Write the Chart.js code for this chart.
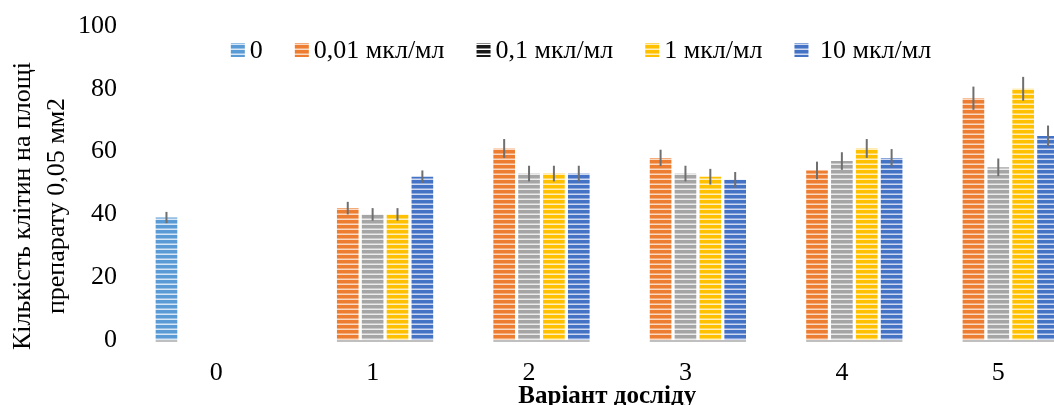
<!DOCTYPE html>
<html>
<head>
<meta charset="utf-8">
<script src="https://cdn.jsdelivr.net/npm/chart.js@4.4.0/dist/chart.umd.min.js"></script>
<style>
  html, body { margin: 0; padding: 0; background: #fff; overflow: hidden; }
  #wrap { width: 1054px; height: 405px; overflow: hidden; }
  canvas { display: block; }
</style>
</head>
<body>
<div id="wrap"><canvas id="barChart" width="1100" height="405"></canvas></div>
<script>
// data
const categories = ["0", "1", "2", "3", "4", "5"];
const seriesNames = ["0", "0,01 мкл/мл", "0,1 мкл/мл", "1 мкл/мл", " 10 мкл/мл"];

const control = [39, null, null, null, null, null];
const dose001 = [null, 42, 61, 58, 54, 77];
const dose01 = [null, 40, 53, 53, 57, 55];
const dose1 = [null, 40, 53, 52, 61, 80];
const dose10 = [null, 52, 53, 51, 58, 65];

const controlErr = [1.8, 0, 0, 0, 0, 0];
const dose001Err = [0, 2, 3, 2.6, 2.8, 3.7];
const dose01Err = [0, 2, 2.5, 2.5, 2.8, 2.8];
const dose1Err = [0, 2, 2.5, 2.5, 3, 3.8];
const dose10Err = [0, 2, 2.5, 2.5, 2.8, 3.3];

const yTicks = [0, 20, 40, 60, 80, 100];

const FONT = "'Liberation Serif', 'Times New Roman', serif";

function stripes(color, line) {
  const c = document.createElement("canvas");
  c.width = 4;
  c.height = 5;
  const g = c.getContext("2d");
  g.fillStyle = color;
  g.fillRect(0, 0, 4, 5);
  g.fillStyle = line;
  g.fillRect(0, 3.5, 4, 1.5);
  return g.createPattern(c, "repeat");
}

const colors = ["#5B9BD5", "#ED7D31", "#A5A5A5", "#FFC000", "#4472C4"];
const lines = ["#d8e7f5", "#fad9c3", "#ececec", "#ffefbf", "#cfdaf0"];
const fills = colors.map((c, i) => stripes(c, lines[i]));
// the legend shows the grey series as a dark marker
const legendFills = fills.slice();
legendFills[2] = stripes("#1a1a1a", "#ffffff");

const values = [control, dose001, dose01, dose1, dose10];
const errors = [controlErr, dose001Err, dose01Err, dose1Err, dose10Err];

// error bars
const errorBars = {
  id: "errorBars",
  afterDatasetsDraw(chart) {
    const ctx = chart.ctx;
    const y = chart.scales.y;
    ctx.save();
    ctx.strokeStyle = "#6f6f6f";
    ctx.lineWidth = 2;
    chart.data.datasets.forEach((ds, di) => {
      const meta = chart.getDatasetMeta(di);
      meta.data.forEach((bar, i) => {
        const v = ds.data[i];
        if (v == null) return;
        const e = errors[di][i];
        ctx.beginPath();
        ctx.moveTo(bar.x, y.getPixelForValue(v + e));
        ctx.lineTo(bar.x, y.getPixelForValue(v - e));
        ctx.stroke();
      });
    });
    ctx.restore();
  }
};

// grey baseline under every group of bars
const groupBase = {
  id: "groupBase",
  afterDatasetsDraw(chart) {
    const ctx = chart.ctx;
    const y0 = chart.scales.y.getPixelForValue(0) + 1;
    ctx.save();
    ctx.strokeStyle = "#bfbfbf";
    ctx.lineWidth = 2;
    categories.forEach((c, i) => {
      let lo = Infinity, hi = -Infinity;
      chart.data.datasets.forEach((ds, di) => {
        if (ds.data[i] == null) return;
        const bar = chart.getDatasetMeta(di).data[i];
        lo = Math.min(lo, bar.x - bar.width / 2);
        hi = Math.max(hi, bar.x + bar.width / 2);
      });
      if (lo < hi) {
        ctx.beginPath();
        ctx.moveTo(lo, y0);
        ctx.lineTo(hi, y0);
        ctx.stroke();
      }
    });
    ctx.restore();
  }
};

// legend across the top, x title and the rotated y title
const extras = {
  id: "extras",
  afterDraw(chart) {
    const ctx = chart.ctx;
    const area = chart.chartArea;
    ctx.save();
    ctx.font = "26px " + FONT;
    ctx.fillStyle = "#000";
    ctx.textBaseline = "middle";
    const box = 14, gap = 5, itemGap = 32;
    const widths = seriesNames.map(n => box + gap + ctx.measureText(n).width);
    const total = widths.reduce((a, b) => a + b, 0) + itemGap * (widths.length - 1);
    let x = 581 - total / 2;
    const ly = 50;
    seriesNames.forEach((n, i) => {
      ctx.fillStyle = legendFills[i];
      ctx.fillRect(x, ly - box / 2, box, box);
      ctx.fillStyle = "#000";
      ctx.fillText(n, x + box + gap, ly + 1);
      x += widths[i] + itemGap;
    });

    // x axis title
    ctx.textAlign = "center";
    ctx.textBaseline = "alphabetic";
    ctx.font = "bold 25px " + FONT;
    ctx.fillText("Варіант досліду", (area.left + area.right) / 2, 403);

    // y axis title
    ctx.font = "26px " + FONT;
    ctx.textBaseline = "middle";
    ctx.rotate(-Math.PI / 2);
    ctx.fillText("Кількість клітин на площі", -206, 23);
    ctx.fillText("препарату 0,05 мм2", -206, 57);
    ctx.restore();
  }
};

new Chart(document.getElementById("barChart"), {
  type: "bar",
  data: {
    labels: categories,
    datasets: seriesNames.map((n, i) => ({
      label: n,
      data: values[i],
      backgroundColor: fills[i],
      borderWidth: 0,
      skipNull: false,
    })),
  },
  options: {
    responsive: false,
    animation: false,
    events: [],
    categoryPercentage: 0.795,
    barPercentage: 0.87,
    layout: {
      padding: { top: 26, right: 23.5, bottom: 0, left: 0 },
    },
    plugins: {
      legend: { display: false },
      tooltip: { enabled: false },
    },
    scales: {
      x: {
        grid: { display: false, drawTicks: false },
        border: { display: false },
        ticks: {
          color: "#000",
          padding: 18,
          font: { family: FONT, size: 26 },
        },
        afterFit(s) { s.height = 65; },
      },
      y: {
        min: 0,
        max: 100,
        afterBuildTicks(s) { s.ticks = yTicks.map(v => ({ value: v })); },
        grid: { display: false, drawTicks: false },
        border: { display: false },
        ticks: {
          color: "#000",
          padding: 21,
          font: { family: FONT, size: 26 },
        },
        afterFit(s) {
          s.width = 138;
          s.paddingTop = 0;
          s.paddingBottom = 0;
        },
      },
    },
  },
  plugins: [groupBase, errorBars, extras],
});
</script>
</body>
</html>
